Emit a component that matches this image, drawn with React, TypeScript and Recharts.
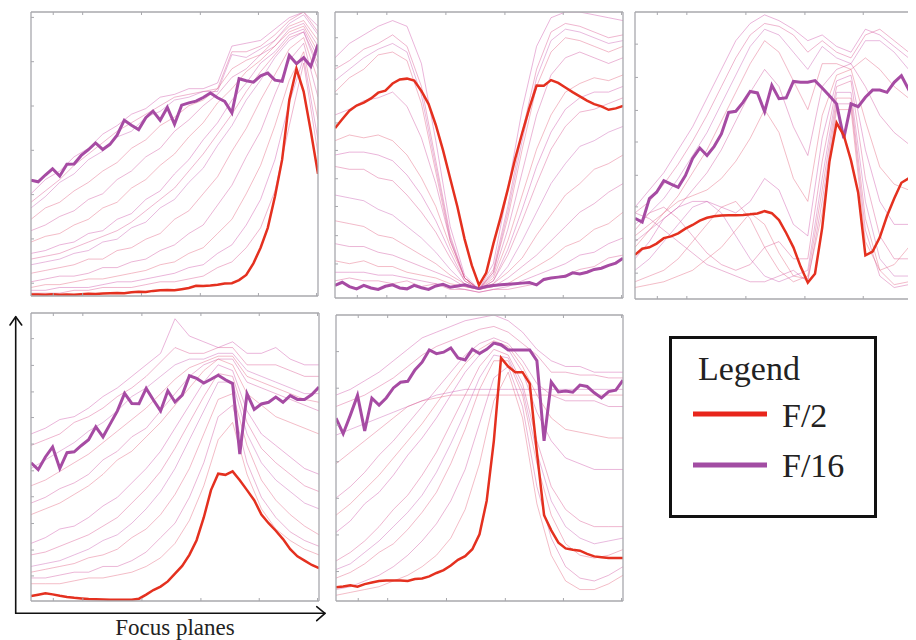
import React from "react";
import { LineChart, Line, XAxis, YAxis } from "recharts";

// Focus-plane index (x) for the F/2 and F/16 curves, and for the intermediate apertures
const focusPlanes = [0,1,2,3,4,5,6,7,8,9,10,11,12,13,14,15,16,17,18,19,20,21,22,23,24,25,26,27,28,29,30,31,32,33,34,35,36,37,38,39,40];
const coarsePlanes = [0,2,4,6,8,10,12,14,16,18,20,22,24,26,28,30,32,34,36,38,40];
const xTicks = [3.1, 7.2, 11.3, 15.4, 19.5, 23.6, 27.6, 31.7, 35.7, 39.8];

// ---------- Panel 1 ----------
const p1F2 = [0.5,0.5,0.4,0.6,0.4,0.5,0.4,0.6,0.8,0.7,0.9,1.0,1.1,1.0,1.3,1.5,1.4,1.8,2.0,2.1,2.0,2.4,2.8,3.6,3.5,3.7,4.0,4.4,4.5,5.6,7.4,11.5,17,24,35,48,69,80,72,58,43];
const p1F16 = [40.8,40.2,42.6,44.8,42.2,46.4,46.5,49.5,51.5,53.9,51.6,53.4,56.6,61.9,60.1,58.6,62.8,65.1,61.9,66.4,60.5,67.2,68.0,68.6,69.9,71.5,69.8,68.5,64.5,76.5,75.8,75.3,77.5,78.5,76.0,75.6,84.7,81.8,83.9,80.8,88.6];
const p1Mid = [
  [36,41,44,49,52,57,60,64,66,70,71,73,73,75,88,89,90,94,98,100,95],
  [33,37,41,46,50,54,58,61,64,67,70,71,72,73,86,86,88,92,97,100,93],
  [31,35,40,43,48,51,56,58,63,65,69,70,72,72,85,84,87,90,96,99,92],
  [27,31,33,37,40,44,47,52,55,60,63,67,69,73,80,83,85,90,95,97,90],
  [23,25,28,30,34,36,41,44,49,52,58,62,67,71,77,80,85,88,94,96,88],
  [19,21,22,25,27,31,33,38,41,46,50,56,61,68,73,79,83,88,93,95,86],
  [15,16,18,19,22,23,27,29,34,37,43,48,55,61,69,75,82,86,92,94,84],
  [13,14,15,17,19,21,23,26,30,34,38,44,50,57,64,72,79,85,91,93,82],
  [11,12,13,15,16,19,20,24,26,31,34,40,45,53,60,69,76,84,90,93,80],
  [8,9,10,11,13,13,16,17,20,22,27,30,36,42,51,59,69,78,87,91,76],
  [5,6,7,7,8,10,10,12,13,16,18,22,25,32,39,49,58,71,83,89,70],
  [3,4,4,5,6,6,7,8,9,11,12,15,17,22,27,36,46,60,76,86,62],
  [2,2,3,3,3,4,5,5,6,7,8,10,11,15,18,25,34,48,68,84,55],
  [1,1,1,2,2,3,3,3,4,5,5,6,7,10,12,17,24,37,60,82,50],
];
const p1YTicks = [4.5, 20.1, 35.7, 51.3, 66.9, 82.5, 98.1];

// ---------- Panel 2 ----------
const p2F2 = [59.4,62.5,65.5,67.3,68.3,69.8,71.8,72.5,75,76.4,76.7,76,72.4,67.8,60.5,51.7,41.8,31.9,20.6,11.4,4.5,8.8,19,28.2,38,48.5,57.7,66.5,74.3,74.2,76.2,75.2,73.6,72,70.5,69,67.8,67,65.8,66.3,67.2];
const p2F16 = [4.4,5.5,4.0,3.2,4.4,3.5,3.0,4.1,4.6,3.5,3.2,4.4,3.6,3.0,4.2,4.8,3.8,4.2,4.6,3.9,3.3,4.0,4.4,4.6,4.8,5.0,5.2,5.4,4.6,6.5,7.0,7.3,7.6,8.8,8.4,9.0,10.0,10.4,11.4,12.2,13.9];
const p2Mid = [
  [84,89,92,95,97,95,82,55,25,8,3,12,38,66,88,98,100,100,99,98,97],
  [80,83,87,89,92,88,74,48,22,7,3,10,32,58,80,93,96,95,93,91,92],
  [76,80,84,87,89,86,71,46,21,7,3,9,30,55,77,90,94,93,91,89,90],
  [72,77,80,85,86,83,68,44,20,7,3,9,28,52,74,86,91,90,88,86,88],
  [64,66,69,70,72,67,56,40,20,7,3,8,24,44,64,78,84,86,84,82,84],
  [55,57,56,57,55,50,42,32,18,7,3,7,20,36,52,64,72,75,77,76,78],
  [50,51,51,50,48,43,36,27,16,6,3,6,17,31,46,58,66,70,72,72,74],
  [46,45,45,42,41,36,30,23,14,6,3,6,15,27,40,52,60,65,66,68,70],
  [36,35,34,31,29,25,21,16,10,5,3,5,11,20,30,40,47,53,55,58,60],
  [27,26,25,22,21,18,15,12,8,5,3,5,9,14,22,29,36,40,45,47,50],
  [19,18,18,16,15,13,11,9,7,4,3,4,7,11,15,20,25,30,33,37,40],
  [13,12,13,11,11,9,8,7,5,4,3,4,5,8,11,14,18,20,24,26,30],
  [9,9,9,8,8,7,6,5,4,3,2,3,4,6,8,10,12,15,16,19,21],
  [6,7,6,6,5,6,4,5,3,3,2,3,3,4,5,7,8,10,11,14,15],
];
const p2YTicks = [2.1, 11.9, 21.8, 32.0, 41.7, 51.6, 61.2, 71.3, 81.2, 91.0];

// ---------- Panel 3 ----------
const p3F2 = [15.4,17.5,18.0,19.3,21.2,21.8,22.9,24.5,25.8,27.3,28.3,28.8,29.1,29.2,29.2,29.3,29.5,29.8,30.6,29.9,27.5,23,18,11.3,5.7,8.8,24.8,47.8,61.4,57,48.3,37,15.2,16.5,21.5,28.9,35,40.5,42.0,43.3,44];
const p3F16 = [28.1,26.8,35,37.2,41.2,40,38.9,43,49,52.6,50,53.2,57.5,65,65.4,68.5,72.3,71.8,65.3,74.5,69.8,70.1,75.8,75.5,75.5,76.1,73.5,70.8,68,56,68,67,70.3,72.8,72.8,72,75.5,77.8,73,77,75];
const p3Mid = [
  [32,38,44,52,60,70,80,90,96,99,97,94,90,92,88,86,94,92,88,84,82],
  [30,34,40,47,55,64,74,84,92,96,95,92,86,90,86,84,92,94,90,86,84],
  [26,30,35,42,50,58,68,78,88,94,92,86,80,88,84,82,90,90,86,80,78],
  [22,26,30,36,44,52,62,72,82,90,86,76,66,82,82,80,84,80,74,70,68],
  [20,24,28,32,38,44,52,62,72,80,74,60,50,74,80,82,74,64,58,54,52],
  [18,24,30,34,36,38,42,48,56,66,58,42,34,64,78,80,62,46,40,38,40],
  [14,20,28,32,34,34,32,30,34,42,38,26,22,56,76,78,52,34,26,26,30],
  [24,30,32,28,22,16,12,10,12,18,20,14,14,48,74,76,42,22,14,14,18],
  [10,14,20,26,32,34,30,22,14,8,6,8,10,42,72,72,34,14,8,8,12],
  [6,8,10,14,20,26,32,34,28,18,10,6,8,38,70,70,28,10,5,6,10],
  [30,28,24,20,16,12,10,8,6,6,8,10,6,34,68,68,24,8,4,5,8],
  [4,5,6,8,10,14,18,24,30,26,16,8,7,30,66,66,20,10,12,18,24],
];
const p3YTicks = [9.0, 20.6, 32.1, 43.1, 54.7, 65.7, 77.2, 88.8];

// ---------- Panel 4 ----------
const p4F2 = [1.7,2.2,2.7,2.3,1.8,1.4,1.1,0.9,0.7,0.6,0.5,0.4,0.4,0.4,0.4,0.8,2.2,3.8,5.0,6.8,9.5,12.2,16,21.1,29,38.5,44.2,43.8,45,41.9,38.5,35,30,27,24.4,21.5,18,15.5,14,12.5,11.4];
const p4F16 = [48,45.6,50,53.5,46,51.5,51.8,54,56,60.5,57,61.5,66,72.1,68.6,68.5,73.8,69.8,66,73,69.1,71.5,78.2,77.3,75.7,77,78.4,76.8,75.5,51,72,66.5,68.4,69,70.8,69,71.3,70,70,71.7,74.3];
const p4Mid = [
  [58,60,63,64,67,71,74,78,82,86,98,92,90,88,90,86,86,88,84,82,82],
  [54,56,58,62,64,67,71,74,78,83,88,86,86,88,88,82,82,82,80,78,78],
  [46,49,52,55,59,62,66,71,74,78,82,84,84,86,86,80,78,76,74,72,72],
  [40,42,45,48,51,55,59,63,67,72,77,81,83,85,85,78,76,74,72,70,69],
  [34,36,39,41,44,49,52,57,60,66,72,78,82,84,84,76,74,72,70,68,66],
  [30,32,34,37,40,44,49,52,57,62,68,74,80,84,82,72,68,64,62,60,58],
  [20,22,25,26,29,33,36,41,46,52,60,68,76,82,80,66,58,54,50,46,44],
  [16,17,19,21,23,26,29,34,39,45,53,62,71,79,78,62,53,48,44,40,38],
  [12,13,14,16,18,21,23,27,32,38,46,56,66,76,76,58,48,42,38,34,32],
  [10,11,12,13,15,16,18,22,25,30,37,46,58,70,72,54,42,35,30,26,23],
  [8,8,9,10,10,12,12,14,17,22,27,36,48,64,68,48,36,29,24,21,19],
  [6,6,6,7,8,8,9,10,12,15,20,28,40,56,62,44,32,25,21,18,16],
];
const p4YTicks = [8.7, 17.7, 26.9, 36.2, 45.2, 54.5, 63.7, 72.6, 81.8, 91.1];

// ---------- Panel 5 ----------
const p5F2 = [4.8,5.1,5.5,5.0,5.9,6.5,7.0,7.2,7.2,7.2,7.0,7.7,7.9,8.6,9.8,10.8,12.4,14.4,15.7,18.1,23.3,35,56,85,82,80,80,76,52,30,24.7,20.4,18.4,17.9,17.6,16.5,15.6,15.3,15.0,15,15];
const p5F16 = [63.9,58.5,65,71.9,59.5,70.9,68.5,71,74.5,76.5,76.8,80.8,83.5,87.8,86.5,87,88.5,85,84.3,88,86.5,88,90.2,89.6,87.8,87.8,87.8,87.8,84,56,76.6,73.1,73.4,73,75.5,75,72.8,71,73.2,73.7,77.2];
const p5Mid = [
  [72,74,77,80,84,88,92,94,96,98,99,100,98,94,88,84,82,82,80,80,80],
  [68,70,72,75,78,82,86,89,91,93,95,96,94,90,86,80,80,79,79,78,78],
  [58,60,62,64,66,68,70,72,73,74,74,74,74,74,74,74,74,74,74,74,74],
  [48,52,56,60,64,68,70,71,72,72,72,72,72,72,72,72,72,72,72,72,72],
  [36,40,45,51,56,62,68,74,80,86,90,92,90,84,76,72,70,70,70,68,68],
  [30,34,39,44,50,56,62,69,76,83,88,91,89,82,72,64,60,59,58,57,57],
  [24,28,34,38,44,51,57,64,72,80,86,90,88,80,66,56,50,48,46,46,46],
  [14,17,21,26,32,37,44,52,62,72,82,88,86,76,56,40,32,28,26,26,26],
  [11,13,17,21,26,31,37,45,55,66,78,86,85,74,52,35,26,22,20,21,22],
  [8,10,13,17,20,25,31,38,48,60,74,84,84,72,48,30,20,16,15,16,18],
  [4,5,7,9,12,16,21,27,35,46,62,78,82,68,40,22,12,8,7,9,12],
  [2,3,4,5,7,9,12,16,22,32,48,70,80,64,34,16,7,4,4,6,9],
];
const p5YTicks = [10.3, 23.1, 35.9, 48.7, 61.5, 74.4, 87.2];

// ---------- Styling ----------
const RED = "#e4301f";
const PURPLE = "#a64ba3";
const FRAME = "#a8a8ad";
const MID_COLORS = ["#cc4fa8", "#d8508c", "#c95bb0", "#e05a7e", "#d0509e", "#e2607a"];
const SERIF = '"Liberation Serif", Tinos, "Times New Roman", serif';

type PanelProps = {
  f2: number[];
  f16: number[];
  mids: number[][];
  yTicks: number[];
  w: number;
  h: number;
  left: number;
  top: number;
};

const M = 2;
const NoLabel = () => <g />;

function Panel({ f2, f16, mids, yTicks, w, h, left, top }: PanelProps) {
  const rows = focusPlanes.map((x, k) => ({ x, f2: f2[k], f16: f16[k] }));
  const axisCommon = {
    tick: NoLabel,
    tickSize: 3,
    axisLine: { stroke: FRAME, strokeWidth: 1.3 },
    tickLine: { stroke: FRAME, strokeWidth: 1 },
    mirror: true,
  };
  return (
    <div style={{ position: "absolute", left: left - M, top: top - M }}>
      <LineChart
        width={w + 2 * M}
        height={h + 2 * M}
        data={rows}
        margin={{ top: M, right: M, bottom: M, left: M }}
      >
        <XAxis dataKey="x" type="number" domain={[0, 40]} ticks={xTicks} allowDataOverflow {...axisCommon} />
        <XAxis xAxisId="top" orientation="top" dataKey="x" type="number" domain={[0, 40]} ticks={xTicks} {...axisCommon} />
        <YAxis type="number" domain={[0, 100]} ticks={yTicks} allowDataOverflow {...axisCommon} />
        <YAxis yAxisId="right" orientation="right" type="number" domain={[0, 100]} ticks={yTicks} {...axisCommon} />
        {mids.map((arr, j) => (
          <Line
            key={"m" + j}
            data={coarsePlanes.map((x, k) => ({ x, v: arr[k] }))}
            dataKey="v"
            type="linear"
            stroke={MID_COLORS[j % MID_COLORS.length]}
            strokeOpacity={0.42}
            strokeWidth={1}
            dot={false}
            activeDot={false}
            isAnimationActive={false}
          />
        ))}
        <Line dataKey="f16" type="linear" stroke={PURPLE} strokeWidth={3} dot={false} activeDot={false} isAnimationActive={false} />
        <Line dataKey="f2" type="linear" stroke={RED} strokeWidth={2.5} dot={false} activeDot={false} isAnimationActive={false} />
      </LineChart>
    </div>
  );
}

// Panel frames in container coordinates (page minus 8px body margin)
const layout = [
  { left: 23, top: 4, w: 287, h: 284 },
  { left: 327, top: 4, w: 288, h: 286 },
  { left: 627, top: 4, w: 288, h: 287 },
  { left: 23, top: 305, w: 288, h: 288 },
  { left: 328, top: 307, w: 287, h: 286 },
];

const panelData = [
  { f2: p1F2, f16: p1F16, mids: p1Mid, yTicks: p1YTicks },
  { f2: p2F2, f16: p2F16, mids: p2Mid, yTicks: p2YTicks },
  { f2: p3F2, f16: p3F16, mids: p3Mid, yTicks: p3YTicks },
  { f2: p4F2, f16: p4F16, mids: p4Mid, yTicks: p4YTicks },
  { f2: p5F2, f16: p5F16, mids: p5Mid, yTicks: p5YTicks },
];

const legendItems = [
  { label: "F/2", color: "#e8251b" },
  { label: "F/16", color: "#a24da3" },
];

export default function App() {
  return (
    <div style={{ position: "relative", width: 908, height: 632, overflow: "hidden", background: "#fff" }}>
      {panelData.map((p, i) => (
        <Panel key={i} {...p} {...layout[i]} />
      ))}

      {/* Axis arrows */}
      <svg width={908} height={632} style={{ position: "absolute", left: 0, top: 0, pointerEvents: "none" }}>
        <g stroke="#111" strokeWidth={1.6} fill="none" strokeLinecap="round" strokeLinejoin="round">
          <polyline points="7.7,605.3 7.7,309" />
          <polyline points="2,317 7.7,308.7 13.7,317" />
          <polyline points="7.7,605.3 317,605.3" />
          <polyline points="308.7,598.7 317,605.3 308.7,612.7" />
        </g>
        <text x={167} y={626.5} textAnchor="middle" style={{ fontFamily: SERIF, fontSize: 23 }} fill="#222">
          Focus planes
        </text>
      </svg>

      {/* Legend */}
      <div
        style={{
          position: "absolute",
          left: 661,
          top: 328,
          width: 202,
          height: 176,
          border: "3px solid #111",
          color: "#222",
        }}
      >
        <svg width={202} height={176} style={{ position: "absolute", left: 0, top: 0 }}>
          <text x={26} y={41} style={{ fontFamily: SERIF, fontSize: 34 }} fill="#222">Legend</text>
          {legendItems.map((it, k) => (
            <g key={it.label}>
              <line x1={21} x2={95} y1={75 + k * 51} y2={75 + k * 51} stroke={it.color} strokeWidth={5} />
              <text x={110} y={88 + k * 50} style={{ fontFamily: SERIF, fontSize: 34 }} fill="#222">{it.label}</text>
            </g>
          ))}
        </svg>
      </div>
    </div>
  );
}
